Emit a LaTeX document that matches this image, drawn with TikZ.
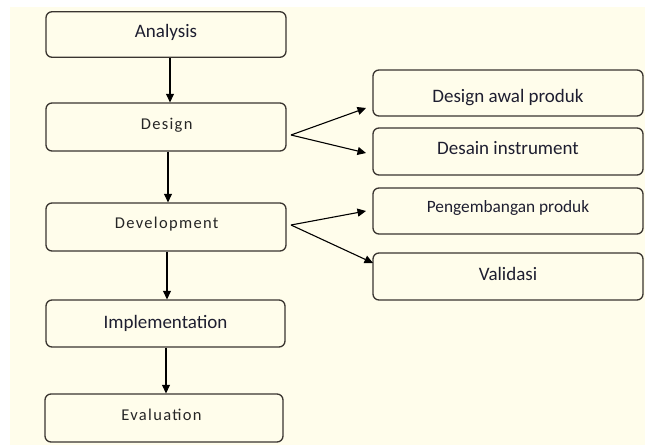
\documentclass[tikz,border=0pt]{standalone}
\usepackage{fontspec}
\setmainfont{Carlito}
\newfontfamily\spacedfont[LetterSpace=8]{Carlito}
\usetikzlibrary{arrows.meta}
\definecolor{cream}{HTML}{FFFDEB}
\definecolor{edge}{HTML}{3A3530}
\definecolor{ink}{HTML}{1E1E30}
\definecolor{inkgray}{HTML}{262626}
\newcommand{\boxtext}[2]{\smash{\raisebox{#1pt}{#2}}}
\begin{document}
\begin{tikzpicture}[x=1pt,y=-1pt,
  box/.style={draw=edge,line width=1.3pt,rounded corners=6pt,fill=cream,text=ink,font=\fontsize{19}{21}\selectfont,inner sep=0pt},
  sbox/.style={box,text=inkgray,font=\spacedfont\fontsize{16.5}{19}\selectfont},
  arr/.style={draw=black,line width=1.1pt,-{Triangle[length=8.5pt,width=8pt]}}]
\useasboundingbox (0,0) rectangle (645,447);
\fill[white] (0,0) rectangle (645,447);
\fill[cream] (10,7) rectangle (645,445);
% left column
\node[box,minimum width=240pt,minimum height=45.5pt] (an) at (166,34.5) {\boxtext{-2.5}{Analysis}};
\node[sbox,minimum width=240pt,minimum height=48pt] (de) at (166,127) {\boxtext{-2.3}{\hspace{1.3pt}Design}};
\node[sbox,minimum width=240pt,minimum height=48pt] (dv) at (166,227) {\boxtext{-1.5}{\hspace{1.3pt}Development}};
\node[box,minimum width=239pt,minimum height=47pt] (im) at (165.5,323.5) {\boxtext{-4.5}{Implementation}};
\node[sbox,minimum width=238pt,minimum height=48pt] (ev) at (164,418) {\boxtext{-2}{Evaluation\hspace{5pt}}};
% right column
\node[box,minimum width=270pt,minimum height=46pt] (r1) at (508,93) {\boxtext{-9}{Design awal produk}};
\node[box,minimum width=270pt,minimum height=47pt] (r2) at (508,151.5) {\boxtext{-3}{Desain instrument}};
\node[box,minimum width=270pt,minimum height=46pt,font=\fontsize{17.3}{19}\selectfont] (r3) at (508,211) {\boxtext{-1}{Pengembangan produk}};
\node[box,minimum width=270pt,minimum height=47pt] (r4) at (508,276.5) {\boxtext{-3.5}{Validasi}};
% vertical arrows
\draw[arr] (an.south -| 170,0) -- (de.north -| 170,0);
\draw[arr] (de.south -| 168,0) -- (dv.north -| 168,0);
\draw[arr] (dv.south -| 167,0) -- (im.north -| 167,0);
\draw[arr] (im.south -| 166,0) -- (ev.north -| 166,0);
% fan-out arrows
\coordinate (d0) at (291,135);
\coordinate (v0) at (291,225);
\coordinate (t1) at (366,108);
\coordinate (t2) at (366,153);
\coordinate (t3) at (366,211);
\coordinate (t4) at (373,263);
\draw[arr] (d0) -- (t1);
\draw[arr] (d0) -- (t2);
\draw[arr] (v0) -- (t3);
\draw[arr] (v0) -- (t4);
\end{tikzpicture}
\end{document}
